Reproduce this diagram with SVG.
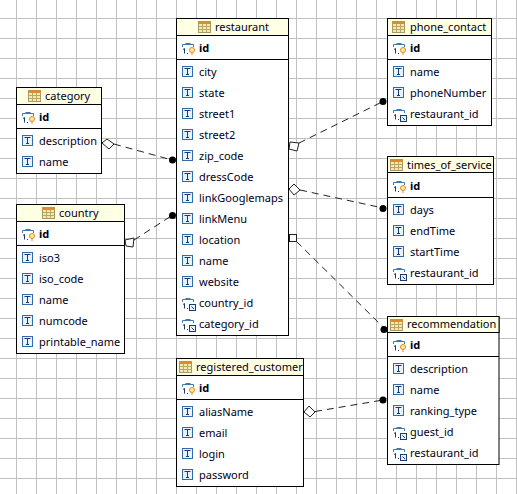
<svg xmlns="http://www.w3.org/2000/svg" width="517" height="494" viewBox="0 0 517 494">
<style>
text{font-family:"Noto Sans","Liberation Sans",sans-serif;font-size:11px;fill:#00001a}
.b{font-weight:700}
.h{fill:#ffffe3;stroke:#000;stroke-width:1}
.body{fill:#fff;stroke:#000;stroke-width:1}
.sep{stroke:#000;stroke-width:1}
.conn{stroke:#222;stroke-width:1;stroke-dasharray:7 5;fill:none}
.end{fill:#fff;stroke:#222;stroke-width:1}
</style>
<defs>
<pattern id="grid" x="16" y="18" width="20" height="20" patternUnits="userSpaceOnUse"><path d="M0.5 0V20M0 0.5H20" fill="none" stroke="#c0c0c0" stroke-width="1"/></pattern>
<clipPath id="regclip"><rect x="177" y="359" width="126" height="16"/></clipPath>
<g id="tbl"><rect x="0.5" y="0.500" width="12" height="11" fill="#f3e9b8" stroke="#a89a60"/><rect x="0.5" y="0.500" width="12" height="2.500" fill="#e08a30"/><path d="M4.500 3V11M8.500 3V11M1 5.500H12M1 8.500H12" stroke="#b8a860" fill="none"/></g>
<g id="T"><rect x="0.5" y="0.500" width="10" height="10" fill="#e8f2fb" stroke="#2f6ca8"/><path d="M2.500 2.500H8.500M5.500 2.500V8.500M4 8.500H7" stroke="#1a3a70" fill="none"/></g>
<g id="pk"><path d="M0.500 5V2.500H11.500V5" fill="none" stroke="#3a7ab0"/><path d="M3.500 1.500H8.500" stroke="#3a7ab0"/><path d="M1 7.500L2.500 6.500V11.500M5 11.500H6" stroke="#1a3a70" fill="none"/><circle cx="10" cy="8" r="2.500" fill="#ffe9a0" stroke="#e08a20"/><path d="M10 10.500V13" stroke="#e08a20"/></g>
<g id="fk"><path d="M0.500 5V2.500H11.500V5" fill="none" stroke="#3a7ab0"/><path d="M3.500 1.500H8.500" stroke="#3a7ab0"/><path d="M1 7.500L2.500 6.500V11.500M5 11.500H6" stroke="#1a3a70" fill="none"/><rect x="7.500" y="7.500" width="6" height="6" fill="#e8f2fb" stroke="#1a3a70"/><path d="M9.500 9.500L12 12" stroke="#1a3a70"/></g>
</defs>
<rect width="517" height="494" fill="#fff"/>
<rect width="517" height="494" fill="url(#grid)"/>
<g id="connectors">
<path class="conn" d="M114 144L172 160"/>
<path class="conn" d="M134 240L172 215.500"/>
<path class="conn" d="M299 143L383 101.500"/>
<path class="conn" d="M300 190L383 208"/>
<path class="conn" d="M296.500 241.500L385 329"/>
<path class="conn" d="M315 411.500L383 400"/>
<path class="end" d="M102 143L107 139L114 144L109 149Z"/>
<path class="end" d="M125 240L134 238L133 247L126 246Z"/>
<path class="end" d="M290 142L299 143L297 151L289 149Z"/>
<path class="end" d="M289 189L294 184L300 190L294 195Z"/>
<rect class="end" x="289.500" y="234.500" width="7" height="7"/>
<path class="end" d="M304 412L309 406L315 412L310 417Z"/>
<circle cx="172.500" cy="160" r="3.500"/><circle cx="172.500" cy="215.500" r="3.500"/><circle cx="383" cy="101.500" r="3.500"/><circle cx="383" cy="208.500" r="3.500"/><circle cx="384" cy="329.500" r="3.500"/><circle cx="383" cy="400" r="3.500"/>
</g>
<g id="restaurant">
<rect class="body" x="176.500" y="18.500" width="112" height="317"/><rect class="h" x="176.500" y="18.500" width="112" height="17"/><line class="sep" x1="176" y1="59.500" x2="289" y2="59.500"/>
<use href="#tbl" x="198" y="21"/><text x="215" y="31">restaurant</text>
<use href="#pk" x="182" y="42"/><text class="b" x="199" y="52">id</text>
<use href="#T" x="182" y="66"/><text x="199" y="76">city</text>
<use href="#T" x="182" y="87"/><text x="199" y="97">state</text>
<use href="#T" x="182" y="108"/><text x="199" y="118">street1</text>
<use href="#T" x="182" y="129"/><text x="199" y="139">street2</text>
<use href="#T" x="182" y="150"/><text x="199" y="160">zip_code</text>
<use href="#T" x="182" y="171"/><text x="199" y="181">dressCode</text>
<use href="#T" x="182" y="192"/><text x="199" y="202">linkGooglemaps</text>
<use href="#T" x="182" y="213"/><text x="199" y="223">linkMenu</text>
<use href="#T" x="182" y="234"/><text x="199" y="244">location</text>
<use href="#T" x="182" y="255"/><text x="199" y="265">name</text>
<use href="#T" x="182" y="276"/><text x="199" y="286">website</text>
<use href="#fk" x="182" y="297"/><text x="199" y="307">country_id</text>
<use href="#fk" x="182" y="318"/><text x="199" y="328">category_id</text>
</g>
<g id="category">
<rect class="body" x="16.500" y="87.500" width="85" height="86"/><rect class="h" x="16.500" y="87.500" width="85" height="17"/><line class="sep" x1="16" y1="128.500" x2="102" y2="128.500"/>
<use href="#tbl" x="28" y="90"/><text x="45" y="100">category</text>
<use href="#pk" x="22" y="111"/><text class="b" x="39" y="121">id</text>
<use href="#T" x="22" y="135"/><text x="39" y="145">description</text>
<use href="#T" x="22" y="156"/><text x="39" y="166">name</text>
</g>
<g id="country">
<rect class="body" x="16.500" y="204.500" width="108" height="149"/><rect class="h" x="16.500" y="204.500" width="108" height="17"/><line class="sep" x1="16" y1="245.500" x2="125" y2="245.500"/>
<use href="#tbl" x="42" y="207"/><text x="59" y="217">country</text>
<use href="#pk" x="22" y="228"/><text class="b" x="39" y="238">id</text>
<use href="#T" x="22" y="252"/><text x="39" y="262">iso3</text>
<use href="#T" x="22" y="273"/><text x="39" y="283">iso_code</text>
<use href="#T" x="22" y="294"/><text x="39" y="304">name</text>
<use href="#T" x="22" y="315"/><text x="39" y="325">numcode</text>
<use href="#T" x="22" y="336"/><text x="39" y="346">printable_name</text>
</g>
<g id="registered_customer">
<rect class="body" x="176.500" y="358.500" width="127" height="128"/><rect class="h" x="176.500" y="358.500" width="127" height="17"/><line class="sep" x1="176" y1="399.500" x2="304" y2="399.500"/>
<use href="#tbl" x="179" y="361"/><text x="196" y="371" clip-path="url(#regclip)">registered_customer</text>
<use href="#pk" x="182" y="382"/><text class="b" x="199" y="392">id</text>
<use href="#T" x="182" y="406"/><text x="199" y="416">aliasName</text>
<use href="#T" x="182" y="427"/><text x="199" y="437">email</text>
<use href="#T" x="182" y="448"/><text x="199" y="458">login</text>
<use href="#T" x="182" y="469"/><text x="199" y="479">password</text>
</g>
<g id="phone_contact">
<rect class="body" x="387.500" y="18.500" width="104" height="107"/><rect class="h" x="387.500" y="18.500" width="104" height="17"/><line class="sep" x1="387" y1="59.500" x2="492" y2="59.500"/>
<use href="#tbl" x="392" y="21"/><text x="410" y="31">phone_contact</text>
<use href="#pk" x="393" y="42"/><text class="b" x="410" y="52">id</text>
<use href="#T" x="393" y="66"/><text x="410" y="76">name</text>
<use href="#T" x="393" y="87"/><text x="410" y="97">phoneNumber</text>
<use href="#fk" x="393" y="108"/><text x="410" y="118">restaurant_id</text>
</g>
<g id="times_of_service">
<rect class="body" x="387.500" y="156.500" width="106" height="128"/><rect class="h" x="387.500" y="156.500" width="106" height="16"/><line class="sep" x1="387" y1="197.500" x2="494" y2="197.500"/>
<use href="#tbl" x="390" y="159"/><text x="407" y="169">times_of_service</text>
<use href="#pk" x="393" y="180"/><text class="b" x="410" y="190">id</text>
<use href="#T" x="393" y="204"/><text x="410" y="214">days</text>
<use href="#T" x="393" y="225"/><text x="410" y="235">endTime</text>
<use href="#T" x="393" y="246"/><text x="410" y="256">startTime</text>
<use href="#fk" x="393" y="267"/><text x="410" y="277">restaurant_id</text>
</g>
<g id="recommendation">
<rect class="body" x="387.500" y="316.500" width="111.500" height="148"/><rect class="h" x="387.500" y="316.500" width="111.500" height="16"/><line class="sep" x1="387" y1="356.500" x2="499" y2="356.500"/>
<use href="#tbl" x="390" y="319"/><text x="407" y="328">recommendation</text>
<use href="#pk" x="393" y="339"/><text class="b" x="410" y="349">id</text>
<use href="#T" x="393" y="363"/><text x="410" y="373">description</text>
<use href="#T" x="393" y="384"/><text x="410" y="394">name</text>
<use href="#T" x="393" y="405"/><text x="410" y="415">ranking_type</text>
<use href="#fk" x="393" y="426"/><text x="410" y="436">guest_id</text>
<use href="#fk" x="393" y="447"/><text x="410" y="457">restaurant_id</text>
</g>
</svg>
